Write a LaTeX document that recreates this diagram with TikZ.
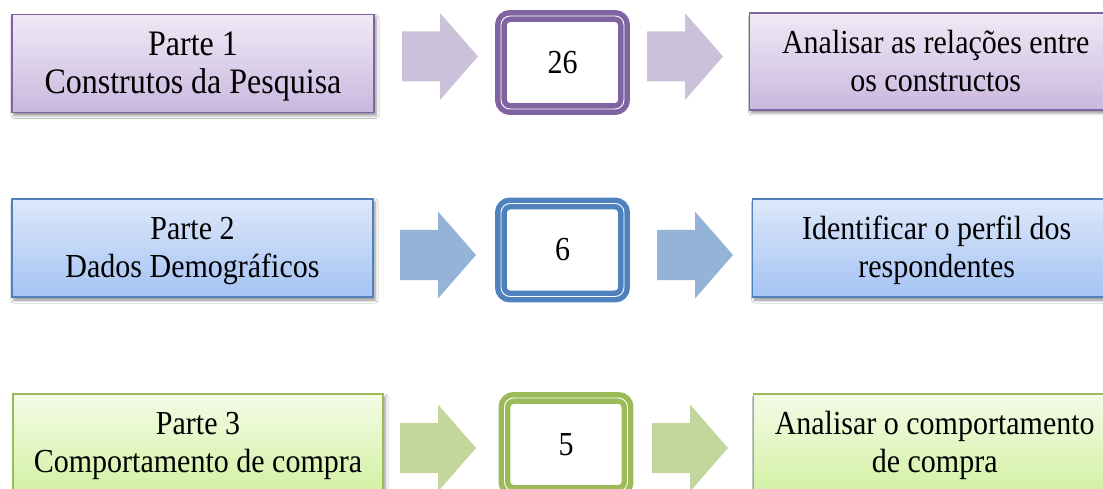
\documentclass[tikz,border=0pt]{standalone}
\usepackage{fontspec}
\setmainfont{Liberation Serif}
\usepackage{graphicx}
\usetikzlibrary{shadows,shadows.blur}
\definecolor{pBord}{HTML}{8064A2}\definecolor{pTop}{HTML}{EFEAF6}\definecolor{pBot}{HTML}{CAB7DE}\definecolor{pArr}{HTML}{CCC1DA}
\definecolor{bBord}{HTML}{4F81BD}\definecolor{bTop}{HTML}{DDE8FA}\definecolor{bBot}{HTML}{A5C3F4}\definecolor{bArr}{HTML}{95B3D7}
\definecolor{gBord}{HTML}{9BBB59}\definecolor{gTop}{HTML}{F4FBE7}\definecolor{gBot}{HTML}{D3F1A4}\definecolor{gArr}{HTML}{C3D69B}
\newcommand\tx[1]{\raisebox{-3pt}[\height][\depth]{\scalebox{1}[1.12]{\begin{tabular}{@{}c@{}}#1\end{tabular}}}}
\newcommand\nx[1]{\scalebox{1}[1.12]{#1}}
\newcommand\blkarrow[3]{%
  \fill[#1] (#2,#3-25) -- (#2+38,#3-25) -- (#2+38,#3-43.5) -- (#2+76,#3) -- (#2+38,#3+43.5) -- (#2+38,#3+25) -- (#2,#3+25) -- cycle;}
\tikzset{
  txtfont/.style={font=\fontsize{30}{34}\selectfont},
  bigfont/.style={font=\fontsize{32}{34}\selectfont},
  gbox/.style={rectangle, draw=#1Bord, line width=1.4pt, top color=#1Top, bottom color=#1Bot,
    inner sep=0pt, minimum height=98pt, txtfont,
    blur shadow={shadow xshift=2pt, shadow yshift=-3pt, shadow blur radius=3pt, shadow opacity=45}},
  numbox/.style={rectangle, draw=#1Bord, line width=5.5pt, double=white, double distance=0.9pt,
    rounded corners=9pt, fill=white, minimum width=123pt, minimum height=93pt, inner sep=0pt, txtfont},
}
\begin{document}
\begin{tikzpicture}[x=1pt,y=-1pt]
\useasboundingbox (0,0) rectangle (1103,489);
\fill[white] (0,0) rectangle (1103,489);
% Row 1
\node[gbox=p, minimum width=362pt, bigfont] (l1) at (193,63.5) {\tx{Parte 1\\Construtos da Pesquisa}};
\blkarrow{pArr}{402}{56.5}
\node[numbox=p] (m1) at (562.5,62.5) {\nx{26}};
\blkarrow{pArr}{647}{56.5}
\node[gbox=p, minimum width=372pt, minimum height=97pt, anchor=west] (r1) at (749,61.5) {\tx{Analisar as relações entre\\os constructos}};
% Row 2
\node[gbox=b, minimum width=361pt] (l2) at (192.5,248) {\tx{Parte 2\\Dados Demográficos}};
\blkarrow{bArr}{400}{255}
\node[numbox=b] (m2) at (562.5,250) {\nx{6}};
\blkarrow{bArr}{657}{255}
\node[gbox=b, minimum width=368pt, anchor=west] (r2) at (752,248) {\tx{Identificar o perfil dos\\respondentes}};
% Row 3
\node[gbox=g, minimum width=370pt] (l3) at (198,443) {\tx{Parte 3\\Comportamento de compra}};
\blkarrow{gArr}{400}{448}
\node[numbox=g] (m3) at (566,444.5) {\nx{5}};
\blkarrow{gArr}{652}{448}
\node[gbox=g, minimum width=362pt, anchor=west] (r3) at (753,443) {\tx{Analisar o comportamento\\de compra}};
\end{tikzpicture}
\end{document}
